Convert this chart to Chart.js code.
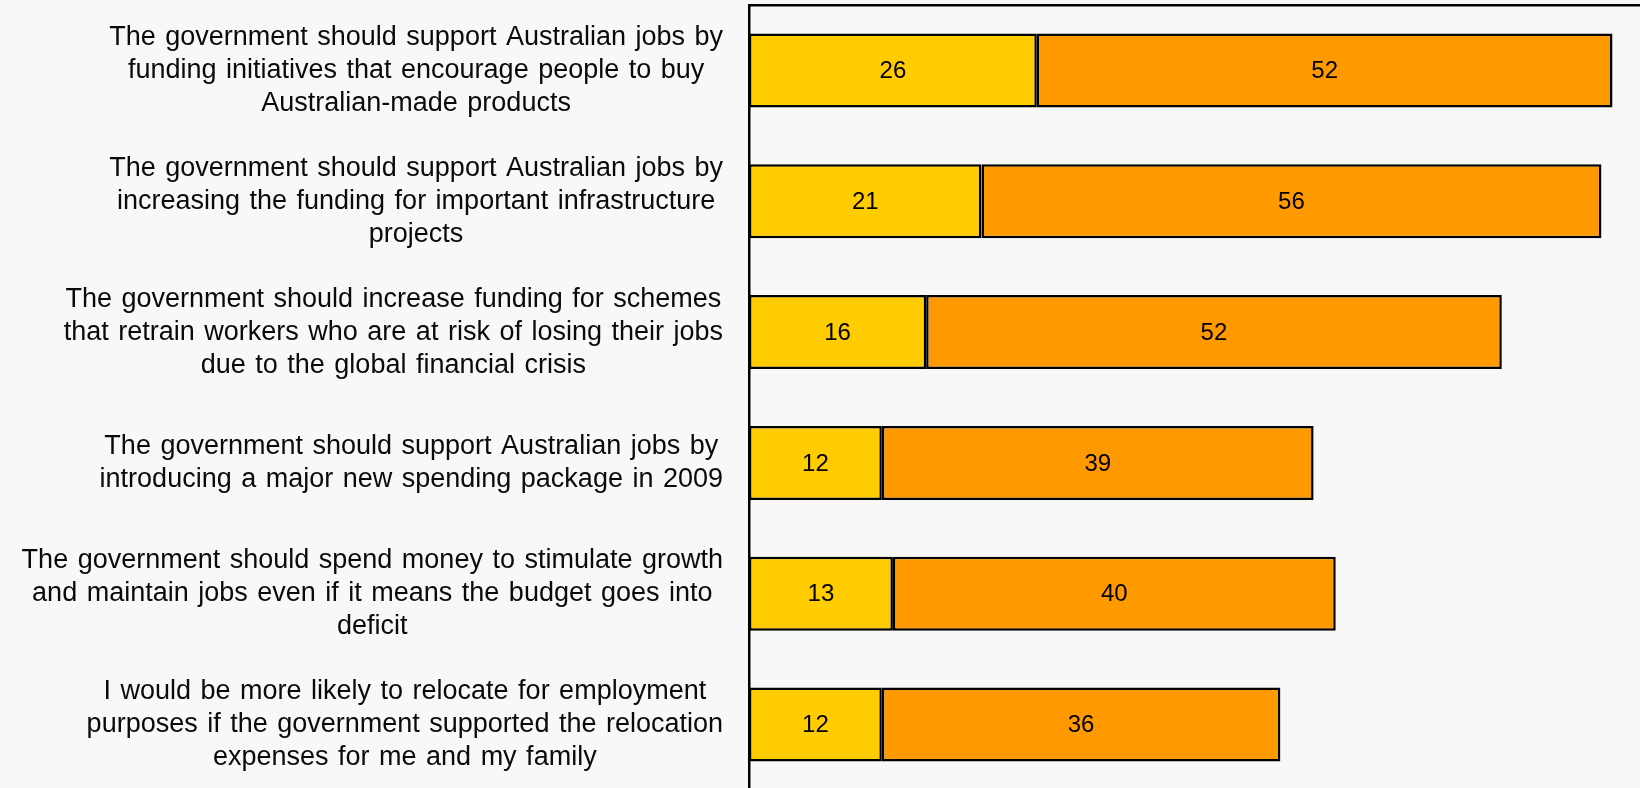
<!DOCTYPE html>
<html>
<head>
<meta charset="utf-8">
<title>Support for government job measures</title>
<script src="https://cdn.jsdelivr.net/npm/chart.js@4/dist/chart.umd.min.js"></script>
<style>
  html, body { margin: 0; padding: 0; background: #f8f8f8; overflow: hidden; }
  #wrap { width: 1640px; height: 788px; overflow: hidden; }
</style>
</head>
<body>
<div id="wrap"><canvas id="chart" width="1690" height="792"></canvas></div>
<script>
// statements, one entry per bar, already wrapped into lines
const categories = [
  ['The government should support Australian jobs by', 'funding initiatives that encourage people to buy', 'Australian-made products'],
  ['The government should support Australian jobs by', 'increasing the funding for important infrastructure', 'projects'],
  ['The government should increase funding for schemes', 'that retrain workers who are at risk of losing their jobs', 'due to the global financial crisis'],
  ['The government should support Australian jobs by', 'introducing a major new spending package in 2009'],
  ['The government should spend money to stimulate growth', 'and maintain jobs even if it means the budget goes into', 'deficit'],
  ['I would be more likely to relocate for employment', 'purposes if the government supported the relocation', 'expenses for me and my family']
];

// two stacked segments per bar (percent)
const strongly = [26, 21, 16, 12, 13, 12];
const somewhat = [52, 56, 52, 39, 40, 36];

const axisMax = 85;

const FONT = '"Liberation Sans", Arial, sans-serif';

// multi-line statements: block sits right against the axis, lines centred inside it
const statementLabels = {
  id: 'statementLabels',
  afterDraw(chart) {
    const { ctx, chartArea, scales } = chart;
    const y = scales.y;
    ctx.save();
    ctx.font = '27px ' + FONT;
    ctx.fillStyle = '#0a0a0a';
    ctx.textAlign = 'center';
    ctx.textBaseline = 'middle';
    if ('wordSpacing' in ctx) ctx.wordSpacing = '2px';
    categories.forEach((lines, i) => {
      const widest = Math.max(...lines.map((l) => ctx.measureText(l).width));
      const cx = chartArea.left - 26 - widest / 2;
      const cy = y.getPixelForValue(i);
      lines.forEach((line, j) => {
        ctx.fillText(line, cx, cy + (j - (lines.length - 1) / 2) * 33);
      });
    });
    ctx.restore();
  }
};

// value printed in the middle of each segment
const segmentValues = {
  id: 'segmentValues',
  afterDatasetsDraw(chart) {
    const { ctx } = chart;
    ctx.save();
    ctx.font = '24px ' + FONT;
    ctx.fillStyle = '#000';
    ctx.textAlign = 'center';
    ctx.textBaseline = 'middle';
    chart.data.datasets.forEach((ds, di) => {
      chart.getDatasetMeta(di).data.forEach((bar, i) => {
        const p = bar.getCenterPoint();
        ctx.fillText(String(ds.data[i]), p.x, p.y + 1);
      });
    });
    ctx.restore();
  }
};

new Chart(document.getElementById('chart'), {
  type: 'bar',
  data: {
    labels: categories,
    datasets: [
      {
        data: strongly,
        backgroundColor: '#ffcc00',
        borderColor: '#000',
        borderWidth: 2.5,
        borderSkipped: false
      },
      {
        data: somewhat,
        backgroundColor: '#ff9900',
        borderColor: '#000',
        borderWidth: 2.5,
        borderSkipped: false
      }
    ]
  },
  options: {
    indexAxis: 'y',
    responsive: false,
    animation: false,
    barPercentage: 0.565,
    categoryPercentage: 1,
    layout: { padding: { left: 749, top: 5, right: 0, bottom: 2 } },
    plugins: {
      legend: { display: false },
      tooltip: { enabled: false }
    },
    scales: {
      x: {
        position: 'top',
        stacked: true,
        min: 0,
        max: axisMax,
        grid: { display: false, drawTicks: false },
        ticks: { display: false },
        border: { display: true, color: '#000', width: 2.5 }
      },
      y: {
        stacked: true,
        grid: { display: false, drawTicks: false },
        ticks: { display: false },
        border: { display: true, color: '#000', width: 2.5 }
      }
    }
  },
  plugins: [statementLabels, segmentValues]
});
</script>
</body>
</html>
